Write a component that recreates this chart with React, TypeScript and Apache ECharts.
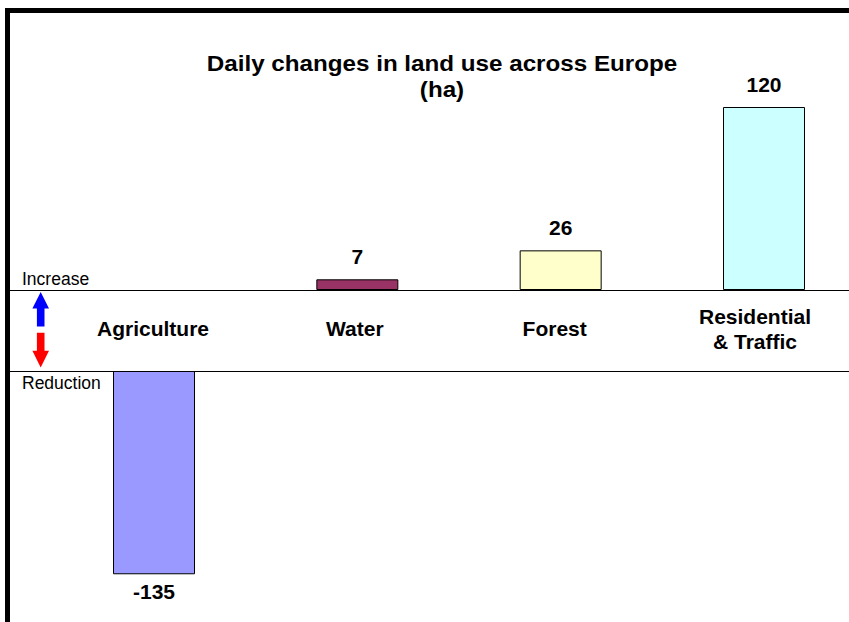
import React, { useEffect, useRef } from "react";
import * as echarts from "echarts";

// Daily land-use change per category, hectares
const categories = ["Agriculture", "Water", "Forest", "Residential\n& Traffic"];
const values = [-135, 7, 26, 120];
const barColors = ["#9999FF", "#993366", "#FFFFCC", "#CCFFFF"];
const titleLines = ["Daily changes in land use across Europe", "(ha)"];
const increaseLabel = "Increase";
const reductionLabel = "Reduction";

// small leftward nudge (px) for each category caption
const captionNudge = [1, 2.5, 6, 9];

const FONT = "'Liberation Sans', Arial, Helvetica, sans-serif";

export default function App() {
  const ref = useRef<HTMLDivElement>(null);

  useEffect(() => {
    if (!ref.current) return;
    const chart = echarts.init(ref.current, null, { renderer: "svg" });

    const upper = values.map((v, i) =>
      v >= 0 ? { value: v, itemStyle: { color: barColors[i] } } : "-"
    );
    const lower = values.map((v, i) =>
      v < 0 ? { value: v, itemStyle: { color: barColors[i] } } : "-"
    );

    const valueLabel = {
      show: true,
      fontFamily: FONT,
      fontSize: 21,
      fontWeight: "bold" as const,
      color: "#000",
    };

    const captionStyle = {
      verticalAlign: "middle" as const,
      fontFamily: FONT,
      fontSize: 21,
      fontWeight: "bold" as const,
      lineHeight: 25,
      color: "#000",
    };

    // bars sit on the ticks: first and last category at the grid edges
    const gridX = { left: 154, width: 610 };

    chart.setOption({
      animation: false,
      backgroundColor: "#fff",
      grid: [
        { ...gridX, top: 15.5, height: 274.5 },
        { ...gridX, top: 371, height: 210.8 },
      ],
      xAxis: [
        {
          type: "category",
          gridIndex: 0,
          boundaryGap: false,
          data: categories.map((c, i) => ({
            value: c,
            textStyle: { ...captionStyle, padding: [0, captionNudge[i] * 2, 0, 0] },
          })),
          axisLine: { show: false },
          axisTick: { show: false },
          splitLine: { show: false },
          axisLabel: { interval: 0, margin: 38.5, ...captionStyle },
        },
        { type: "category", gridIndex: 1, boundaryGap: false, data: categories, show: false },
      ],
      yAxis: [
        { type: "value", gridIndex: 0, min: 0, max: 180, show: false },
        { type: "value", gridIndex: 1, min: -140, max: 0, show: false },
      ],
      series: [
        {
          type: "bar",
          xAxisIndex: 0,
          yAxisIndex: 0,
          barWidth: 82,
          data: upper,
          itemStyle: { borderColor: "#000", borderWidth: 1 },
          label: { ...valueLabel, position: "top", distance: 12 },
        },
        {
          type: "bar",
          xAxisIndex: 1,
          yAxisIndex: 1,
          barWidth: 82,
          data: lower,
          itemStyle: { borderColor: "#000", borderWidth: 1 },
          label: { ...valueLabel, position: "bottom", distance: 7 },
        },
      ],
      graphic: [
        // frame: heavy rule along top and left edges
        { type: "rect", shape: { x: 5, y: 8, width: 844, height: 5 }, style: { fill: "#000" } },
        { type: "rect", shape: { x: 5, y: 8, width: 5, height: 614 }, style: { fill: "#000" } },
        // zero line and lower baseline
        { type: "line", shape: { x1: 10, y1: 290.5, x2: 849, y2: 290.5 }, style: { stroke: "#000", lineWidth: 1 }, z: 10 },
        { type: "line", shape: { x1: 10, y1: 371.5, x2: 849, y2: 371.5 }, style: { stroke: "#000", lineWidth: 1 }, z: 10 },
        // direction arrows
        {
          type: "polygon",
          shape: { points: [[40.7, 292], [49, 308.5], [44.5, 308.5], [44.5, 326.5], [36.9, 326.5], [36.9, 308.5], [32.4, 308.5]] },
          style: { fill: "#0000FF" },
        },
        {
          type: "polygon",
          shape: { points: [[36.9, 332.8], [44.5, 332.8], [44.5, 350.8], [49, 350.8], [40.7, 367.5], [32.4, 350.8], [36.9, 350.8]] },
          style: { fill: "#FF0000" },
        },
        {
          type: "text",
          x: 22,
          y: 279,
          style: { text: increaseLabel, font: `17.5px ${FONT}`, fill: "#000", align: "left", verticalAlign: "middle" },
        },
        {
          type: "text",
          x: 22,
          y: 383,
          style: { text: reductionLabel, font: `17.5px ${FONT}`, fill: "#000", align: "left", verticalAlign: "middle" },
        },
        {
          type: "text",
          x: 442,
          y: 76,
          scaleX: 1.1,
          style: {
            text: titleLines.join("\n"),
            font: `bold 22px ${FONT}`,
            lineHeight: 26,
            fill: "#000",
            align: "center",
            verticalAlign: "middle",
          },
        },
      ],
    });

    return () => chart.dispose();
  }, []);

  return (
    <div
      ref={ref}
      style={{ position: "fixed", left: 0, top: 0, width: 849, height: 622, background: "#fff" }}
    />
  );
}
